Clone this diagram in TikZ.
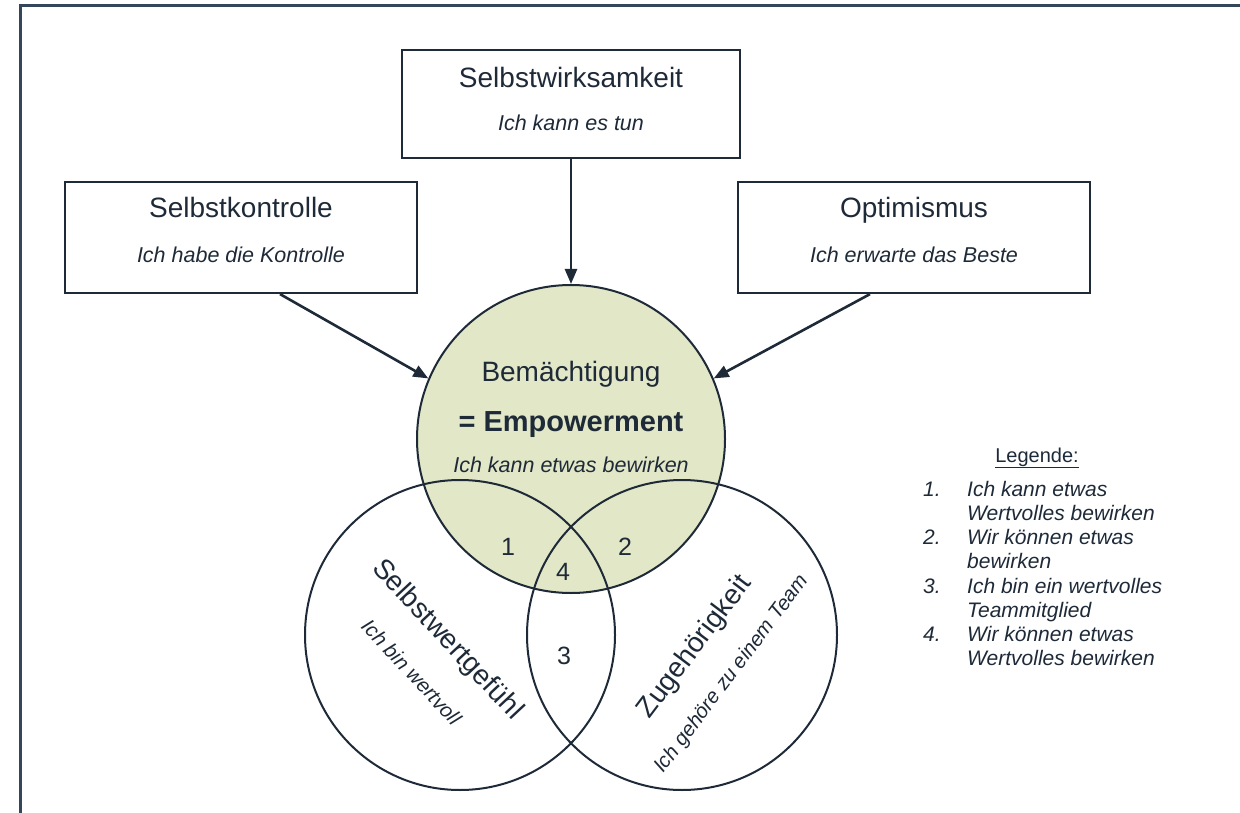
\documentclass[tikz,border=0pt]{standalone}
\usepackage{fontspec}
\setmainfont{Liberation Sans}
\usetikzlibrary{arrows.meta}
\definecolor{ink}{RGB}{30,42,56}
\definecolor{frm}{RGB}{52,70,90}
\definecolor{olive}{RGB}{226,231,199}
\begin{document}
\begin{tikzpicture}[x=1pt,y=-1pt,
  box/.style={draw=ink, line width=2.2pt, rectangle, inner sep=0pt},
  ttl/.style={font=\fontsize{28}{30}\selectfont, text=ink, anchor=base, inner sep=0pt},
  sub/.style={font=\fontsize{21.5}{24}\selectfont\itshape, text=ink, anchor=base, inner sep=0pt},
  num/.style={font=\fontsize{25}{28}\selectfont, text=ink, anchor=base, inner sep=0pt},
  lg/.style={font=\fontsize{21}{24}\selectfont\itshape, text=ink, anchor=base west, inner sep=0pt},
  arr/.style={draw=ink, line width=2.6pt, -{Triangle[length=15pt,width=12pt]}},
  venn/.style={draw=ink, line width=2pt, circle, inner sep=0pt, minimum size=310pt}
]
\useasboundingbox (0,0) rectangle (1240,813);
% frame
\draw[frm, line width=3pt] (20.5,813) -- (20.5,5.5) -- (1240,5.5);

% boxes
\node[box, minimum width=338pt, minimum height=108pt] (tbox) at (571,104) {};
\node[box, minimum width=352pt, minimum height=111pt] (lbox) at (241,237.5) {};
\node[box, minimum width=352pt, minimum height=111pt] (rbox) at (914,237.5) {};

\node[ttl] (t1) at (571,88) {Selbstwirksamkeit};
\node[sub] (t2) at (571,131) {Ich kann es tun};
\node[ttl] (l1) at (241,218) {Selbstkontrolle};
\node[sub] (l2) at (241,262) {Ich habe die Kontrolle};
\node[ttl] (r1) at (914,218) {Optimismus};
\node[sub] (r2) at (914,262) {Ich erwarte das Beste};

% circles
\node[venn, fill=olive, minimum size=308pt] (big) at (571,439) {};
\node[venn] (lc) at (460,635) {};
\node[venn] (rc) at (682,635) {};

% arrows
\draw[arr] (tbox.south) -- (big.north);
\draw[arr] ([xshift=39pt]lbox.south) -- (big.157);
\draw[arr] ([xshift=-44pt]rbox.south) -- (big.23);

% big circle text
\node[ttl] (b1) at (571,381) {Bemächtigung};
\node[ttl, font=\fontsize{29}{31}\selectfont\bfseries] (b2) at (571,431) {= Empowerment};
\node[sub] (b3) at (571,472) {Ich kann etwas bewirken};

% numbers
\node[num] (n1) at (508,555) {1};
\node[num] (n2) at (625,555) {2};
\node[num] (n4) at (563,580) {4};
\node[num] (n3) at (564,664) {3};

% rotated texts
\node[ttl, anchor=center, rotate=-47] (sw1) at (447,640) {Selbstwertgefühl};
\node[sub, anchor=center, rotate=-47, font=\fontsize{20.5}{23}\selectfont\itshape] (sw2) at (412,672) {Ich bin wertvoll};
\node[ttl, anchor=center, rotate=53] (zg1) at (695,647) {Zugehörigkeit};
\node[sub, anchor=center, rotate=53, font=\fontsize{20.5}{23}\selectfont\itshape] (zg2) at (732,674) {Ich gehöre zu einem Team};

% legend
\node[font=\fontsize{20}{24}\selectfont, text=ink, anchor=base, inner sep=0pt] (leg) at (1037,462) {\underline{Legende:}};
\node[lg] (k1) at (923,496) {1.};
\node[lg] (v1a) at (967,496) {Ich kann etwas};
\node[lg] (v1b) at (967,520) {Wertvolles bewirken};
\node[lg] (k2) at (923,544.5) {2.};
\node[lg] (v2a) at (967,544.5) {Wir können etwas};
\node[lg] (v2b) at (967,568.5) {bewirken};
\node[lg] (k3) at (923,593) {3.};
\node[lg] (v3a) at (967,593) {Ich bin ein wertvolles};
\node[lg] (v3b) at (967,617) {Teammitglied};
\node[lg] (k4) at (923,641.5) {4.};
\node[lg] (v4a) at (967,641.5) {Wir können etwas};
\node[lg] (v4b) at (967,665.5) {Wertvolles bewirken};
\end{tikzpicture}
\end{document}
